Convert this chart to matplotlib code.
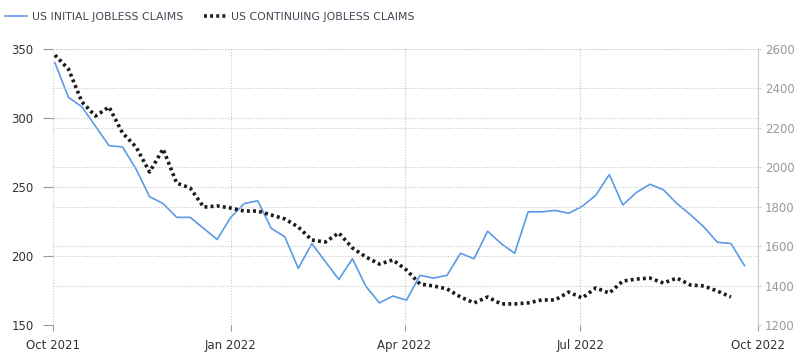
import matplotlib
matplotlib.use("Agg")
import matplotlib.pyplot as plt
import matplotlib.dates as mdates
import pandas as pd

week_start = "2021-10-02"
n_weeks = 52

initial_claims = [340, 315, 308, 294, 280, 279, 263, 243, 238, 228,
                  228, 220, 212, 228, 238, 240, 220, 214, 191, 209,
                  196, 183, 198, 178, 166, 171, 168, 186, 184, 186,
                  202, 198, 218, 209, 202, 232, 232, 233, 231, 236,
                  244, 259, 237, 246, 252, 248, 238, 230, 221, 210,
                  209, 193]

continuing_claims = [2569, 2498, 2331, 2260, 2306, 2174, 2103, 1976, 2093, 1920,
                     1895, 1798, 1804, 1793, 1778, 1778, 1758, 1738, 1697, 1631,
                     1621, 1667, 1591, 1545, 1509, 1530, 1479, 1408, 1398, 1383,
                     1342, 1312, 1342, 1307, 1307, 1312, 1327, 1327, 1367, 1337,
                     1388, 1362, 1423, 1433, 1438, 1413, 1438, 1403, 1398, 1372,
                     1342]

left_ticks = [150, 200, 250, 300, 350]
right_ticks = [1200, 1400, 1600, 1800, 2000, 2200, 2400, 2600]
month_ticks = ["2021-10-01", "2022-01-01", "2022-04-01", "2022-07-01", "2022-10-01"]

dates = pd.date_range(week_start, periods=n_weeks, freq="7D")

plt.rcParams["font.family"] = ["DejaVu Sans"]
grid_kw = dict(color="#c8c8c8", linestyle=(0, (1, 1.5)), linewidth=0.8)

fig = plt.figure(figsize=(8, 3.6), dpi=100)
ax = fig.add_axes([0.06625, 0.0972, 0.88125, 0.7667])
ax2 = ax.twinx()

l1, = ax.plot(dates, initial_claims, color="#5b9be6", linewidth=1.2,
              label="US INITIAL JOBLESS CLAIMS", zorder=3)
l2, = ax2.plot(dates[:len(continuing_claims)], continuing_claims, color="#1a1a1a",
               linewidth=2.6, linestyle=(0, (0.8, 0.9)),
               label="US CONTINUING JOBLESS CLAIMS", zorder=3)

ax.set_ylim(150, 350)
ax.set_yticks(left_ticks)
ax2.set_ylim(1200, 2600)
ax2.set_yticks(right_ticks)

ax.set_xlim(pd.Timestamp(month_ticks[0]), pd.Timestamp(month_ticks[-1]))
ax.set_xticks([pd.Timestamp(m) for m in month_ticks])
ax.xaxis.set_major_formatter(mdates.DateFormatter("%b %Y"))

ax.grid(True, **grid_kw)
ax2.grid(True, axis="y", **grid_kw)
ax.set_axisbelow(True)

for a in (ax, ax2):
    for s in ("top", "left", "bottom"):
        a.spines[s].set_visible(False)
    a.spines["right"].set_color("#d0d0d0")
    a.spines["right"].set_linewidth(0.8)

ax.tick_params(axis="y", labelsize=8.5, labelcolor="#333333", color="#999999",
               length=7, width=0.8, pad=7)
ax.tick_params(axis="x", labelsize=8.5, labelcolor="#333333", color="#999999",
               length=4, width=0.8, pad=6)
ax2.tick_params(axis="y", labelsize=8.5, labelcolor="#999999", color="#d0d0d0",
                length=2, width=0.8, pad=3)

fig.legend(handles=[l1, l2], loc="upper left", bbox_to_anchor=(-0.006, 0.995),
           ncol=2, frameon=False, fontsize=7.8, labelcolor="#444455",
           handlelength=2.0, handletextpad=0.5, columnspacing=1.9)

fig.savefig("out.png", dpi=100)
